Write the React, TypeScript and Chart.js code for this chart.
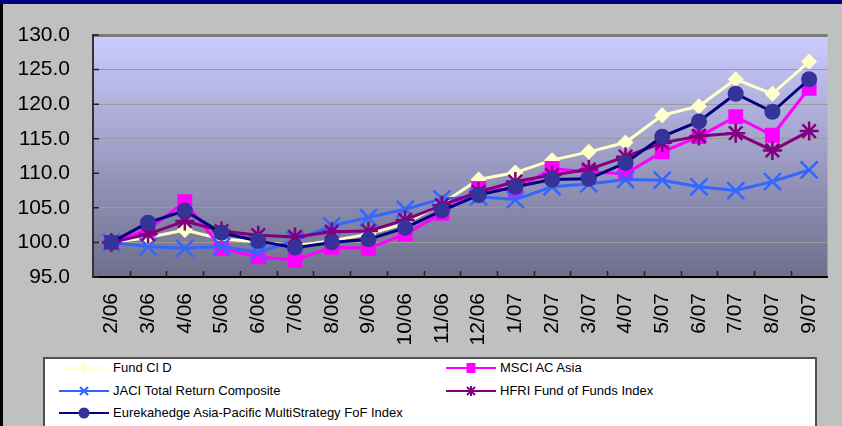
import React, { useEffect, useRef } from 'react';
import { Chart, registerables } from 'chart.js';

Chart.register(...registerables);

const categories = ['2/06', '3/06', '4/06', '5/06', '6/06', '7/06', '8/06', '9/06', '10/06', '11/06', '12/06', '1/07', '2/07', '3/07', '4/07', '5/07', '6/07', '7/07', '8/07', '9/07'];

const fundClD = [100, 100.7, 101.8, 100.5, 100.1, 99.5, 100.25, 101.2, 102.75, 105.6, 109.1, 110.1, 111.9, 113.1, 114.45, 118.4, 119.7, 123.6, 121.5, 126.15];
const msciAcAsia = [100, 101.8, 105.9, 99.15, 97.9, 97.45, 99.3, 99.15, 101.2, 104.2, 107.8, 107.6, 110.7, 110.2, 109.95, 113.1, 115.3, 118.2, 115.5, 122.3];
const jaciTotalReturn = [100, 99.4, 99.15, 99.4, 98.55, 100.3, 102.4, 103.6, 104.8, 106.3, 106.6, 106.2, 108.05, 108.45, 109.1, 109.0, 108.05, 107.5, 108.8, 110.5];
const hfriFoF = [100, 101.2, 103.1, 101.65, 101.05, 100.8, 101.55, 101.65, 103.25, 105.4, 107.3, 108.8, 109.75, 110.55, 112.4, 114.4, 115.4, 115.8, 113.3, 116.1];
const eurekahedgeFoF = [100, 102.85, 104.6, 101.4, 100.2, 99.25, 100.0, 100.45, 102.1, 104.6, 106.85, 108.05, 109.1, 109.2, 111.5, 115.3, 117.5, 121.5, 118.9, 123.6];

const yMin = 95;
const yMax = 130;
const yStep = 5;

const seriesNames = [
  'Fund Cl D',
  'MSCI AC Asia',
  'JACI Total Return Composite',
  'HFRI Fund of Funds Index',
  'Eurekahedge Asia-Pacific MultiStrategy FoF Index',
];

const W = 842;
const H = 426;
const FONT = "'Liberation Sans', Arial, sans-serif";

const plotDecor = {
  id: 'plotDecor',
  beforeDraw(chart: any) {
    const { ctx, chartArea: a } = chart;
    const g = ctx.createLinearGradient(0, a.top, 0, a.bottom);
    g.addColorStop(0, '#CCCCFF');
    g.addColorStop(1, '#6E6E8C');
    ctx.save();
    ctx.fillStyle = g;
    ctx.fillRect(a.left, a.top, a.right - a.left, a.bottom - a.top);
    ctx.restore();
  },
  beforeDatasetsDraw(chart: any) {
    const { ctx, chartArea: a, scales } = chart;
    const x = scales.x;
    const y = scales.y;
    ctx.save();
    ctx.strokeStyle = '#222';
    ctx.lineWidth = 1.5;
    ctx.beginPath();
    for (let i = 1; i < categories.length; i++) {
      const px = Math.round((x.getPixelForValue(i - 1) + x.getPixelForValue(i)) / 2) + 0.5;
      ctx.moveTo(px, a.bottom);
      ctx.lineTo(px, a.bottom - 6);
    }
    y.ticks.forEach((t: any) => {
      const py = y.getPixelForValue(t.value);
      ctx.moveTo(a.left, py);
      ctx.lineTo(a.left + 6, py);
    });
    ctx.stroke();
    ctx.restore();
  },
};

function LegendMarker({ kind, color, fill }: { kind: string; color: string; fill: string }) {
  const cx = 25;
  const cy = 8;
  let marker: any = null;
  if (kind === 'diamond') {
    marker = <polygon points={`${cx},${cy - 5} ${cx + 5},${cy} ${cx},${cy + 5} ${cx - 5},${cy}`} fill={fill} />;
  } else if (kind === 'square') {
    marker = <rect x={cx - 4.5} y={cy - 5} width={9} height={10} fill={fill} />;
  } else if (kind === 'x') {
    marker = (
      <g stroke={color} strokeWidth={2.2}>
        <line x1={cx - 4} y1={cy - 4} x2={cx + 4} y2={cy + 4} />
        <line x1={cx - 4} y1={cy + 4} x2={cx + 4} y2={cy - 4} />
      </g>
    );
  } else if (kind === 'star') {
    marker = (
      <g stroke={color} strokeWidth={2}>
        <line x1={cx - 4} y1={cy - 4} x2={cx + 4} y2={cy + 4} />
        <line x1={cx - 4} y1={cy + 4} x2={cx + 4} y2={cy - 4} />
        <line x1={cx} y1={cy - 5} x2={cx} y2={cy + 5} />
      </g>
    );
  } else {
    marker = <circle cx={cx} cy={cy} r={5.5} fill={fill} />;
  }
  return (
    <svg width={52} height={16} style={{ display: 'block' }}>
      <line x1={0} y1={cy} x2={50} y2={cy} stroke={color} strokeWidth={2.2} />
      {marker}
    </svg>
  );
}

const legendItems = [
  { name: seriesNames[0], kind: 'diamond', color: '#FFFFCC', fill: '#FFFFCC', left: 59, top: 368 },
  { name: seriesNames[1], kind: 'square', color: '#FF00FF', fill: '#FF00FF', left: 446, top: 368 },
  { name: seriesNames[2], kind: 'x', color: '#3366FF', fill: '#3366FF', left: 59, top: 391 },
  { name: seriesNames[3], kind: 'star', color: '#800080', fill: '#800080', left: 446, top: 391 },
  { name: seriesNames[4], kind: 'circle', color: '#000080', fill: '#333399', left: 59, top: 413 },
];

export default function App() {
  const canvasRef = useRef<HTMLCanvasElement | null>(null);

  useEffect(() => {
    const canvas = canvasRef.current;
    if (!canvas) return;
    const chart = new Chart(canvas, {
      type: 'line',
      data: {
        labels: categories,
        datasets: [
          {
            label: seriesNames[0],
            data: fundClD,
            borderColor: '#FFFFCC',
            backgroundColor: '#FFFFCC',
            pointBackgroundColor: '#FFFFCC',
            pointBorderColor: '#FFFFCC',
            pointStyle: 'rectRot',
            pointRadius: 8,
            pointBorderWidth: 0,
            borderWidth: 3,
            order: 5,
          },
          {
            label: seriesNames[1],
            data: msciAcAsia,
            borderColor: '#FF00FF',
            backgroundColor: '#FF00FF',
            pointBackgroundColor: '#FF00FF',
            pointBorderColor: '#FF00FF',
            pointStyle: 'rect',
            pointRadius: 10.5,
            pointBorderWidth: 0,
            borderWidth: 3,
            order: 4,
          },
          {
            label: seriesNames[2],
            data: jaciTotalReturn,
            borderColor: '#3366FF',
            backgroundColor: '#3366FF',
            pointBackgroundColor: '#3366FF',
            pointBorderColor: '#3366FF',
            pointStyle: 'crossRot',
            pointRadius: 12,
            pointBorderWidth: 2.5,
            borderWidth: 3,
            order: 3,
          },
          {
            label: seriesNames[3],
            data: hfriFoF,
            borderColor: '#800080',
            backgroundColor: '#800080',
            pointBackgroundColor: '#800080',
            pointBorderColor: '#800080',
            pointStyle: 'star',
            pointRadius: 9.5,
            pointBorderWidth: 2.5,
            borderWidth: 3,
            order: 2,
          },
          {
            label: seriesNames[4],
            data: eurekahedgeFoF,
            borderColor: '#000080',
            backgroundColor: '#333399',
            pointBackgroundColor: '#333399',
            pointBorderColor: '#333399',
            pointStyle: 'circle',
            pointRadius: 8,
            pointBorderWidth: 0,
            borderWidth: 3,
            order: 1,
          },
        ],
      },
      options: {
        responsive: false,
        animation: false,
        devicePixelRatio: 1,
        events: [],
        layout: { padding: { top: 35, left: 0, right: 0, bottom: 0 } },
        elements: { line: { tension: 0 } },
        plugins: {
          legend: { display: false },
          tooltip: { enabled: false },
          title: { display: false },
        },
        scales: {
          x: {
            type: 'category',
            offset: true,
            grid: { display: false, drawTicks: false },
            border: { display: true, color: '#000000', width: 2 },
            ticks: {
              minRotation: 90,
              maxRotation: 90,
              autoSkip: false,
              padding: 16,
              color: '#000000',
              font: { family: FONT, size: 21 },
            },
            afterFit(s: any) {
              s.height = H - 277;
              s.paddingLeft = 0;
              s.paddingRight = 0;
            },
          },
          y: {
            type: 'linear',
            min: yMin,
            max: yMax,
            ticks: {
              stepSize: yStep,
              padding: 23,
              color: '#000000',
              font: { family: FONT, size: 21 },
              callback: (v: any) => Number(v).toFixed(1),
            },
            grid: {
              drawTicks: false,
              color: (c: any) => (c.tick && c.tick.value === yMax ? '#7A7A7A' : '#999999'),
              lineWidth: (c: any) => (c.tick && c.tick.value === yMax ? 3 : 1),
            },
            border: { display: true, color: '#333333', width: 2 },
            afterFit(s: any) {
              s.width = 93;
              s.paddingTop = 0;
              s.paddingBottom = 0;
            },
          },
        },
      },
      plugins: [plotDecor],
    } as any);
    return () => chart.destroy();
  }, []);

  return (
    <div
      style={{
        position: 'fixed',
        left: 0,
        top: 0,
        width: W,
        height: H,
        background: '#C0C0C0',
        overflow: 'hidden',
        fontFamily: FONT,
      }}
    >
      <canvas ref={canvasRef} width={W} height={H} style={{ position: 'absolute', left: 0, top: 0, width: W, height: H }} />
      <div style={{ position: 'absolute', left: 0, top: 0, width: W, height: 4, background: '#000080' }} />
      <div style={{ position: 'absolute', left: 0, top: 4, width: 3, height: H, background: '#000000' }} />
      <div
        style={{
          position: 'absolute',
          left: 43,
          top: 357,
          width: 817 - 43,
          height: 120,
          background: '#FFFFFF',
          border: '2px solid #505050',
          boxSizing: 'border-box',
        }}
      />
      {legendItems.map((it) => (
        <div key={it.name} style={{ position: 'absolute', left: it.left, top: it.top - 8, height: 16, display: 'flex', alignItems: 'center' }}>
          <LegendMarker kind={it.kind} color={it.color} fill={it.fill} />
          <span style={{ marginLeft: 2, fontSize: 13, color: '#000', whiteSpace: 'nowrap', lineHeight: '16px' }}>{it.name}</span>
        </div>
      ))}
    </div>
  );
}
